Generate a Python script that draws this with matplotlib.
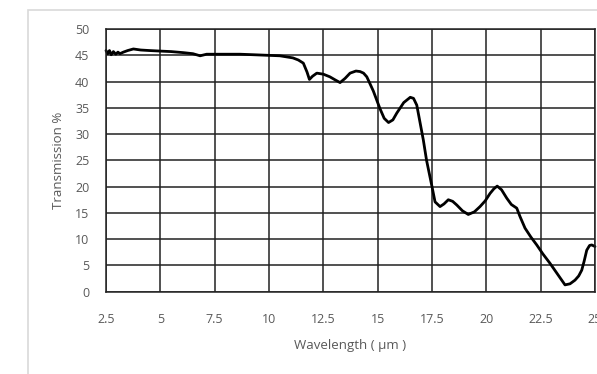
import matplotlib.pyplot as plt
from matplotlib.patches import Rectangle

# wavelength (um) and transmission (%)
wavelength = [2.5, 2.58, 2.66, 2.74, 2.84, 2.95, 3.05, 3.14, 3.3, 3.5, 3.76, 4.1, 4.5, 4.98,
              5.5, 6.06, 6.5, 6.83, 7.13, 7.8, 8.67, 9.3, 9.9, 10.5, 10.8, 11.1, 11.35,
              11.58, 11.75, 11.86, 12.0, 12.2, 12.5, 12.8, 13.05, 13.27, 13.5, 13.73, 14.0,
              14.19, 14.35, 14.5, 14.8, 15.1, 15.3, 15.5, 15.7, 15.88, 16.2, 16.5, 16.65,
              16.8, 17.1, 17.25, 17.5, 17.64, 17.87, 18.05, 18.25, 18.45, 18.64, 18.9,
              19.17, 19.45, 19.71, 19.95, 20.17, 20.35, 20.5, 20.7, 20.94, 21.15, 21.4,
              21.55, 21.78, 22.05, 22.32, 22.6, 22.93, 23.3, 23.62, 23.85, 24.08, 24.25,
              24.39, 24.5, 24.62, 24.75, 24.85, 25.0]
transmission = [45.9, 45.3, 45.9, 45.1, 45.7, 45.2, 45.6, 45.3, 45.6, 45.9, 46.2, 46.0, 45.9, 45.8,
                45.7, 45.5, 45.3, 44.9, 45.2, 45.2, 45.2, 45.1, 45.0, 44.9, 44.7, 44.5, 44.1,
                43.5, 41.8, 40.4, 41.0, 41.6, 41.4, 40.9, 40.3, 39.8, 40.6, 41.6, 42.0,
                41.9, 41.6, 40.9, 38.2, 34.9, 33.0, 32.2, 32.7, 34.0, 36.0, 37.0, 36.8,
                35.5, 28.9, 25.0, 20.0, 17.1, 16.2, 16.7, 17.5, 17.2, 16.5, 15.4,
                14.7, 15.2, 16.2, 17.3, 18.7, 19.6, 20.1, 19.4, 17.8, 16.6, 15.9,
                14.3, 12.1, 10.4, 8.9, 7.2, 5.4, 3.2, 1.3, 1.5, 2.2, 3.0,
                4.1, 5.8, 7.9, 8.8, 8.9, 8.6]

xticks = [2.5, 5, 7.5, 10, 12.5, 15, 17.5, 20, 22.5, 25]
xticklabels = ["2.5", "5", "7.5", "10", "12.5", "15", "17.5", "20", "22.5", "25"]
yticks = [0, 5, 10, 15, 20, 25, 30, 35, 40, 45, 50]

plt.rcParams['font.family'] = ['Open Sans', 'DejaVu Sans']
W, H = 597, 374
fig = plt.figure(figsize=(W / 100, H / 100), dpi=100)

# light outer frame of the chart area
fig.patches.append(Rectangle((28 / W, -0.1), 1.2, (H - 10) / H + 0.1,
                             transform=fig.transFigure, fill=False,
                             edgecolor="#d9d9d9", linewidth=1.2))

ax = fig.add_axes([106 / W, (H - 291.7) / H, (595 - 106) / W, (291.7 - 29) / H])
ax.plot(wavelength, transmission, color="black", linewidth=2.0,
        solid_joinstyle="round", solid_capstyle="round", clip_on=False)
ax.set_xlim(2.5, 25)
ax.set_ylim(0, 50)
ax.set_xticks(xticks)
ax.set_xticklabels(xticklabels)
ax.set_yticks(yticks)
ax.grid(True, color="#222222", linewidth=1.1)
ax.set_axisbelow(True)
for s in ax.spines.values():
    s.set_color("#222222")
    s.set_linewidth(1.1)
ax.tick_params(length=0, labelsize=9, labelcolor="#595959")
ax.tick_params(axis="x", pad=15)
ax.tick_params(axis="y", pad=12)
ax.set_xlabel("Wavelength ( μm )", fontsize=9.5, color="#595959", labelpad=10)
ax.set_ylabel("Transmission %", fontsize=9.5, color="#595959", labelpad=7)

fig.savefig("out.png", dpi=100)
